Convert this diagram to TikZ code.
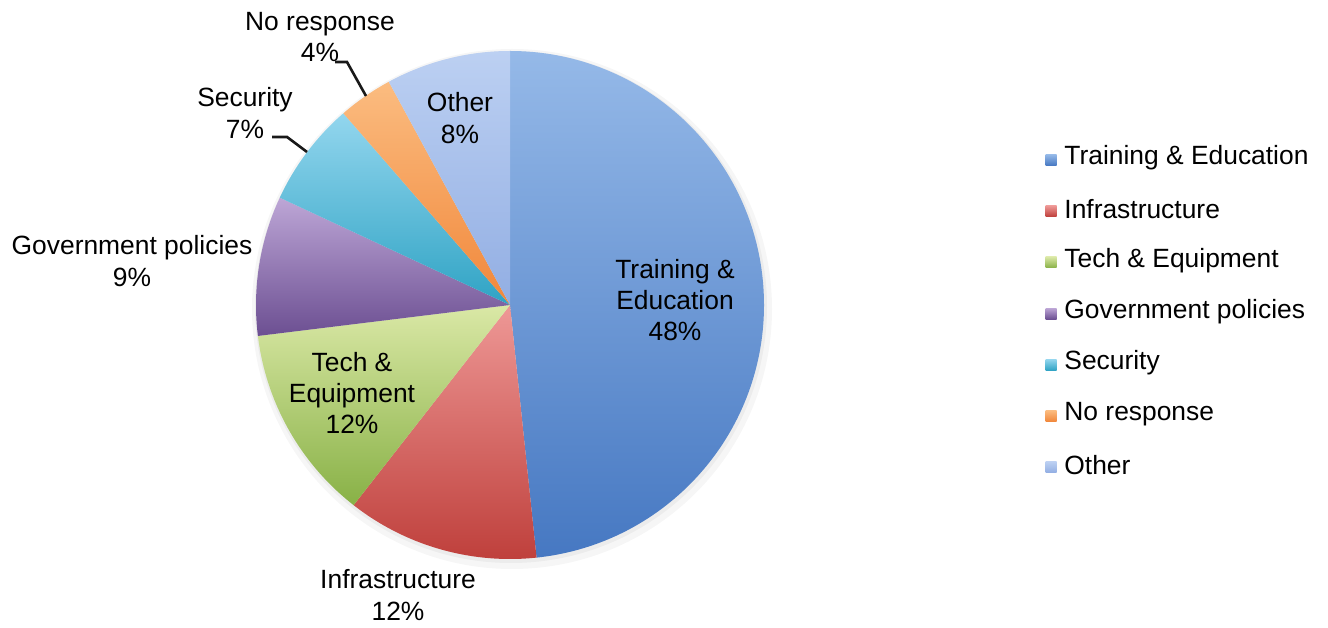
\documentclass[tikz,border=0pt]{standalone}
\usepackage{fontspec}
\setmainfont{Liberation Sans}
\usetikzlibrary{positioning}

\definecolor{trainA}{HTML}{95B9E8}
\definecolor{trainB}{HTML}{4678C2}
\definecolor{infraA}{HTML}{EE9896}
\definecolor{infraB}{HTML}{BE3E3A}
\definecolor{techA}{HTML}{DAE8A6}
\definecolor{techB}{HTML}{88B146}
\definecolor{govA}{HTML}{BDA6D6}
\definecolor{govB}{HTML}{6C4F92}
\definecolor{secA}{HTML}{93D6EE}
\definecolor{secB}{HTML}{2FA3C4}
\definecolor{noA}{HTML}{FBBC80}
\definecolor{noB}{HTML}{F1873A}
\definecolor{othA}{HTML}{BCD0F2}
\definecolor{othB}{HTML}{92AEE3}

\begin{document}
\begin{tikzpicture}[x=0.5pt,y=0.5pt]

\tikzset{lbl/.style = {align=center, font=\fontsize{13.2}{15.6}\selectfont, inner sep=0pt}}
\tikzset{leg/.style = {anchor=west, font=\fontsize{13.2}{15.6}\selectfont, inner sep=0pt}}
\tikzset{leader/.style = {line width=1.3pt, black!90}}
\tikzset{box/.style = {minimum size=5.5pt, inner sep=0pt, yshift=-1pt}}

\useasboundingbox (0,0) rectangle (1328,627);
\coordinate (c) at (510,322);

%shadow
\fill[black, opacity=0.035] ([shift={(2,-4)}]c) circle (260);
\fill[black, opacity=0.04] ([shift={(1,-2)}]c) circle (256);

%slices
\shade[top color=trainA, bottom color=trainB] (c) -- ++(90:254) arc[start angle=90, end angle=-84, radius=254] -- cycle;
\shade[top color=infraA, bottom color=infraB] (c) -- ++(-84:254) arc[start angle=-84, end angle=-128, radius=254] -- cycle;
\shade[top color=techA, bottom color=techB] (c) -- ++(-128:254) arc[start angle=-128, end angle=-173, radius=254] -- cycle;
\shade[top color=govA, bottom color=govB] (c) -- ++(-173:254) arc[start angle=-173, end angle=-205, radius=254] -- cycle;
\shade[top color=secA, bottom color=secB] (c) -- ++(-205:254) arc[start angle=-205, end angle=-229, radius=254] -- cycle;
\shade[top color=noA, bottom color=noB] (c) -- ++(-229:254) arc[start angle=-229, end angle=-241.5, radius=254] -- cycle;
\shade[top color=othA, bottom color=othB] (c) -- ++(-241.5:254) arc[start angle=-241.5, end angle=-270, radius=254] -- cycle;

%labels
\node[lbl] (train) at (675,327) {Training \&\\Education\\48\%};
\node[lbl] (infra) at (398,32) {Infrastructure\\12\%};
\node[lbl] (tech) at (352,234) {Tech \&\\Equipment\\12\%};
\node[lbl] (gov) at (132,366) {Government policies\\9\%};
\node[lbl] (sec) at (245,514) {Security\\7\%};
\node[lbl] (nores) at (320,590) {No response\\4\%};
\node[lbl] (other) at (460,509) {Other\\8\%};

%leaders
\coordinate (sec start) at (272,490);
\coordinate (sec tip) at (307,475);
\coordinate (nores start) at (335,565);
\coordinate (nores tip) at (366,531);
\draw[leader] (sec start) -- ++(15,0) -- (sec tip);
\draw[leader] (nores start) -- ++(12,0) -- (nores tip);

%legend
\node[leg] (l1) at (1064,469) {Training \& Education};
\node[leg] (l2) at ([yshift=-25.6pt]l1.west) {Infrastructure};
\node[leg] (l3) at ([yshift=-25.6pt]l2.west) {Tech \& Equipment};
\node[leg] (l4) at ([yshift=-25.6pt]l3.west) {Government policies};
\node[leg] (l5) at ([yshift=-25.6pt]l4.west) {Security};
\node[leg] (l6) at ([yshift=-25.6pt]l5.west) {No response};
\node[leg] (l7) at ([yshift=-25.6pt]l6.west) {Other};
\node[box, top color=trainA, bottom color=trainB, left=3.5pt of l1.west] {};
\node[box, top color=infraA, bottom color=infraB, left=3.5pt of l2.west] {};
\node[box, top color=techA, bottom color=techB, left=3.5pt of l3.west] {};
\node[box, top color=govA, bottom color=govB, left=3.5pt of l4.west] {};
\node[box, top color=secA, bottom color=secB, left=3.5pt of l5.west] {};
\node[box, top color=noA, bottom color=noB, left=3.5pt of l6.west] {};
\node[box, top color=othA, bottom color=othB, left=3.5pt of l7.west] {};

\end{tikzpicture}
\end{document}
